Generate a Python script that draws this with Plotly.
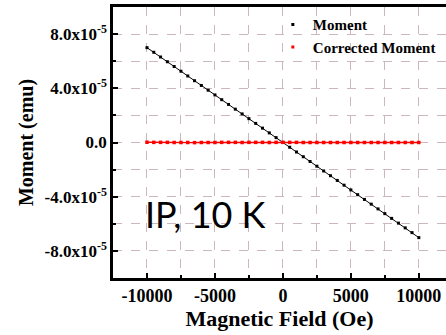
import plotly.graph_objects as go

field = [-10000, -9500, -9000, -8500, -8000, -7500, -7000, -6500, -6000, -5500,
         -5000, -4500, -4000, -3500, -3000, -2500, -2000, -1500, -1000, -500,
         0, 500, 1000, 1500, 2000, 2500, 3000, 3500, 4000, 4500,
         5000, 5500, 6000, 6500, 7000, 7500, 8000, 8500, 9000, 9500, 10000]
moment = [7.00e-5, 6.66e-5, 6.31e-5, 5.96e-5, 5.61e-5, 5.26e-5, 4.91e-5, 4.56e-5, 4.21e-5, 3.86e-5,
          3.51e-5, 3.16e-5, 2.81e-5, 2.46e-5, 2.11e-5, 1.76e-5, 1.41e-5, 1.06e-5, 0.71e-5, 0.36e-5,
          0.01e-5, -0.35e-5, -0.70e-5, -1.05e-5, -1.40e-5, -1.75e-5, -2.10e-5, -2.45e-5, -2.80e-5, -3.15e-5,
          -3.50e-5, -3.85e-5, -4.20e-5, -4.55e-5, -4.90e-5, -5.25e-5, -5.60e-5, -5.95e-5, -6.30e-5, -6.65e-5, -7.02e-5]
corrected = [0.02e-5, 0.01e-5, 0.01e-5, 0.01e-5, 0.0, 0.0, 0.0, -0.01e-5, 0.0, 0.0,
             0.0, 0.01e-5, 0.01e-5, 0.01e-5, 0.0, 0.01e-5, 0.01e-5, 0.01e-5, 0.0, 0.01e-5,
             0.01e-5, 0.01e-5, 0.01e-5, 0.0, 0.0, 0.0, 0.0, 0.0, 0.0, 0.0,
             0.0, 0.0, 0.0, 0.0, 0.0, 0.0, 0.0, 0.0, 0.0, 0.0, 0.0]

ytick_vals = [-8e-5, -4e-5, 0, 4e-5, 8e-5]
ytick_text = ["-8.0x10<sup>-5</sup>", "-4.0x10<sup>-5</sup>", "0.0",
              "4.0x10<sup>-5</sup>", "8.0x10<sup>-5</sup>"]
xtick_vals = [-10000, -5000, 0, 5000, 10000]
xtick_text = ["-10000", "-5000", "0", "5000", "10000"]

serif = "Liberation Serif, Times New Roman, serif"
grid_col = "#cbb7bd"

fig = go.Figure()
fig.add_trace(go.Scatter(x=field, y=moment, mode="lines+markers",
                         line=dict(color="black", width=1),
                         marker=dict(color="black", size=3, symbol="square"),
                         showlegend=False))
fig.add_trace(go.Scatter(x=field, y=corrected, mode="lines+markers",
                         line=dict(color="#ff0000", width=1.3),
                         marker=dict(color="#ff0000", size=3.5, symbol="square"),
                         showlegend=False))
fig.add_trace(go.Scatter(x=[None], y=[None], mode="markers", name="<b>Moment</b>",
                         marker=dict(color="black", size=3, symbol="square")))
fig.add_trace(go.Scatter(x=[None], y=[None], mode="markers", name="<b>Corrected Moment</b>",
                         marker=dict(color="#ff0000", size=3, symbol="square")))

fig.add_annotation(x=0.091, y=0.237, xref="paper", yref="paper", xanchor="left", yanchor="middle",
                   text="IP, 10 K", showarrow=False,
                   font=dict(family="Lato, sans-serif", size=36, color="black"))

fig.update_layout(
    width=446, height=335,
    margin=dict(l=113, r=0, t=7, b=57),
    paper_bgcolor="white", plot_bgcolor="white",
    font=dict(family=serif, color="black"),
    legend=dict(x=0.48, y=0.995, xanchor="left", yanchor="top",
                bgcolor="rgba(0,0,0,0)", font=dict(family=serif, size=15, color="black"),
                tracegroupgap=0, itemwidth=30),
)
fig.update_xaxes(range=[-12500, 12000], tickvals=xtick_vals, ticktext=xtick_text,
                 ticks="inside", ticklen=5, tickwidth=2, tickcolor="black",
                 showline=True, linecolor="black", linewidth=2.5, mirror=True,
                 showgrid=True, gridcolor=grid_col, griddash="dash", gridwidth=1,
                 minor=dict(dtick=2500, tick0=0, ticks="inside", ticklen=3, tickcolor="black",
                            showgrid=True, gridcolor=grid_col, griddash="dash", gridwidth=1),
                 zeroline=False,
                 tickfont=dict(family=serif, size=18, color="black", weight="bold"),
                 title=dict(text="<b>Magnetic Field (Oe)</b>", standoff=5,
                            font=dict(family=serif, size=22, color="black")))
fig.update_yaxes(range=[-1e-4, 1e-4], tickvals=ytick_vals, ticktext=ytick_text,
                 ticks="inside", ticklen=5, tickwidth=2, tickcolor="black",
                 showline=True, linecolor="black", linewidth=2.5, mirror=False,
                 showgrid=True, gridcolor=grid_col, griddash="dash", gridwidth=1,
                 minor=dict(dtick=2e-5, tick0=0, ticks="inside", ticklen=3, tickcolor="black",
                            showgrid=True, gridcolor=grid_col, griddash="dash", gridwidth=1),
                 zeroline=False,
                 tickfont=dict(family=serif, size=17, color="black", weight="bold"),
                 title=dict(text="<b>Moment (emu)</b>", standoff=6,
                            font=dict(family=serif, size=20, color="black")))

fig.write_html("out.html")
